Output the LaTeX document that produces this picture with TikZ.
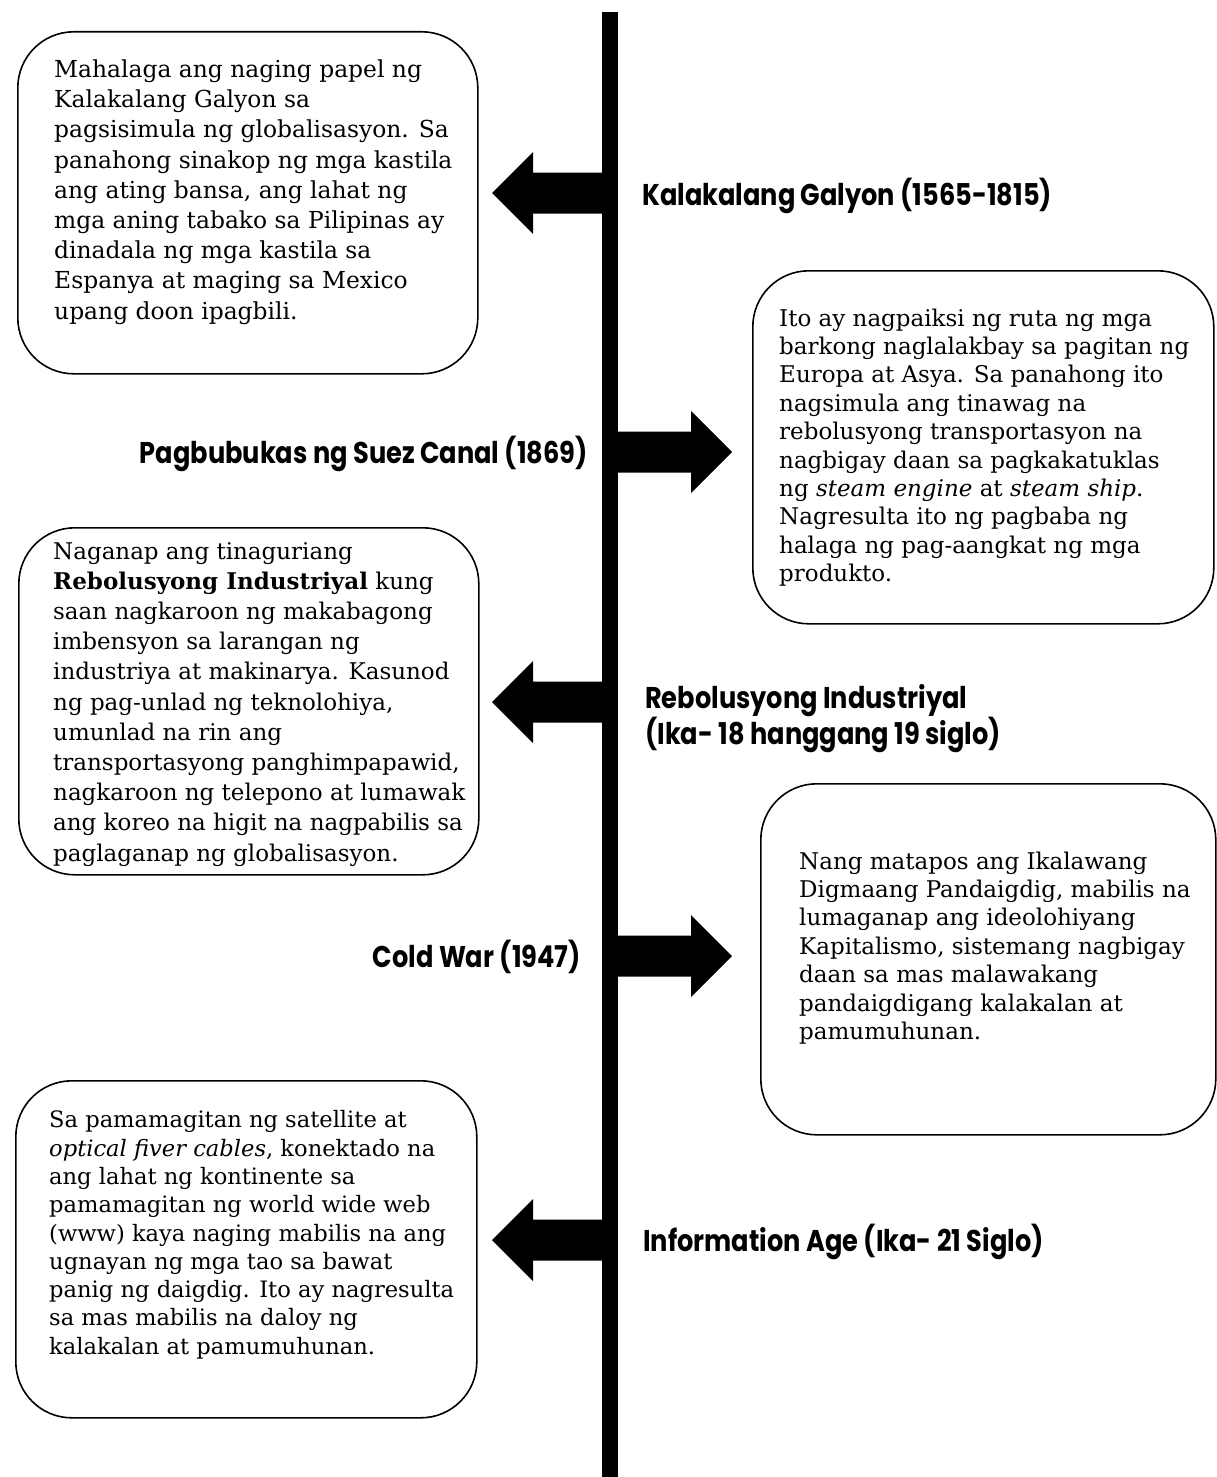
\documentclass[tikz,border=0pt]{standalone}
\usepackage{fontspec}
\setmainfont{DejaVu Serif}
\newfontfamily\labfont{Poppins}[FakeStretch=0.855]
\begin{document}
\begin{tikzpicture}[x=1pt,y=-1pt,
  box/.style={draw=black, line width=1.6pt, rounded corners=56pt, fill=white, anchor=north west, inner sep=0pt},
  body/.style={anchor=north west, inner sep=0pt, align=left, font=\fontsize{23}{#1}\selectfont},
  lab/.style={inner sep=0pt, font=\labfont\bfseries\fontsize{30}{36}\selectfont},
  larr/.pic={\fill[black] (112,-20.5) -- (41,-20.5) -- (41,-41) -- (0,0) -- (41,41) -- (41,20.5) -- (112,20.5) -- cycle;},
  rarr/.pic={\fill[black] (-116,-20.5) -- (-41,-20.5) -- (-41,-41) -- (0,0) -- (-41,41) -- (-41,20.5) -- (-116,20.5) -- cycle;}
]
\useasboundingbox (0,0) rectangle (1217,1477);
% timeline bar
\node[fill=black, inner sep=0pt, minimum width=16pt, minimum height=1465pt, anchor=north] (bar) at (610,12) {};
% arrows
\pic at (492,193) {larr};
\pic at (732,452) {rarr};
\pic at (492,702) {larr};
\pic at (732,956) {rarr};
\pic at (492,1240) {larr};
% boxes
\node[box, minimum width=460pt, minimum height=342pt] (b1) at (17,31) {};
\node[box, minimum width=461pt, minimum height=353pt] (b2) at (752,270) {};
\node[box, minimum width=460pt, minimum height=347pt] (b3) at (18,527) {};
\node[box, minimum width=455pt, minimum height=351pt] (b4) at (760,783) {};
\node[box, minimum width=461pt, minimum height=337pt] (b5) at (15,1080) {};
% box texts
\node[body=30.2, font=\fontsize{23.4}{30.2}\selectfont] (t1) at (54,59.5) {\vphantom{l}Mahalaga ang naging papel ng\\
Kalakalang Galyon sa\\
pagsisimula ng globalisasyon. Sa\\
panahong sinakop ng mga kastila\\
ang ating bansa, ang lahat ng\\
mga aning tabako sa Pilipinas ay\\
dinadala ng mga kastila sa\\
Espanya at maging sa Mexico\\
upang doon ipagbili.};
\node[body=28.4] (t2) at (779,308.5) {\vphantom{l}Ito ay nagpaiksi ng ruta ng mga\\
barkong naglalakbay sa pagitan ng\\
Europa at Asya. Sa panahong ito\\
nagsimula ang tinawag na\\
rebolusyong transportasyon na\\
nagbigay daan sa pagkakatuklas\\
ng \textit{steam engine} at \textit{steam ship}.\\
Nagresulta ito ng pagbaba ng\\
halaga ng pag-aangkat ng mga\\
produkto.};
\node[body=30.2] (t3) at (53,541.5) {\vphantom{l}Naganap ang tinaguriang\\
\textbf{Rebolusyong Industriyal} kung\\
saan nagkaroon ng makabagong\\
imbensyon sa larangan ng\\
industriya at makinarya. Kasunod\\
ng pag-unlad ng teknolohiya,\\
umunlad na rin ang\\
transportasyong panghimpapawid,\\
nagkaroon ng telepono at lumawak\\
ang koreo na higit na nagpabilis sa\\
paglaganap ng globalisasyon.};
\node[body=28.4] (t4) at (799,851.5) {\vphantom{l}Nang matapos ang Ikalawang\\
Digmaang Pandaigdig, mabilis na\\
lumaganap ang ideolohiyang\\
Kapitalismo, sistemang nagbigay\\
daan sa mas malawakang\\
pandaigdigang kalakalan at\\
pamumuhunan.};
\node[body=28.3, font=\fontsize{22.6}{28.3}\selectfont] (t5) at (49,1110.5) {\vphantom{l}Sa pamamagitan ng satellite at\\
\textit{optical fiver cables}, konektado na\\
ang lahat ng kontinente sa\\
pamamagitan ng world wide web\\
(www) kaya naging mabilis na ang\\
ugnayan ng mga tao sa bawat\\
panig ng daigdig. Ito ay nagresulta\\
sa mas mabilis na daloy ng\\
kalakalan at pamumuhunan.};
% labels
\node[lab, anchor=base west] (l1) at (642,205) {Kalakalang Galyon (1565-1815)};
\node[lab, anchor=base east] (l2) at (588,463) {Pagbubukas ng Suez Canal (1869)};
\node[lab, anchor=base west] (l3a) at (645,708) {Rebolusyong Industriyal};
\node[lab, anchor=base west] (l3b) at (645,744) {(Ika- 18 hanggang 19 siglo)};
\node[lab, anchor=base east] (l4) at (581,967) {Cold War (1947)};
\node[lab, anchor=base west] (l5) at (643,1251) {Information Age (Ika- 21 Siglo)};
\end{tikzpicture}
\end{document}
